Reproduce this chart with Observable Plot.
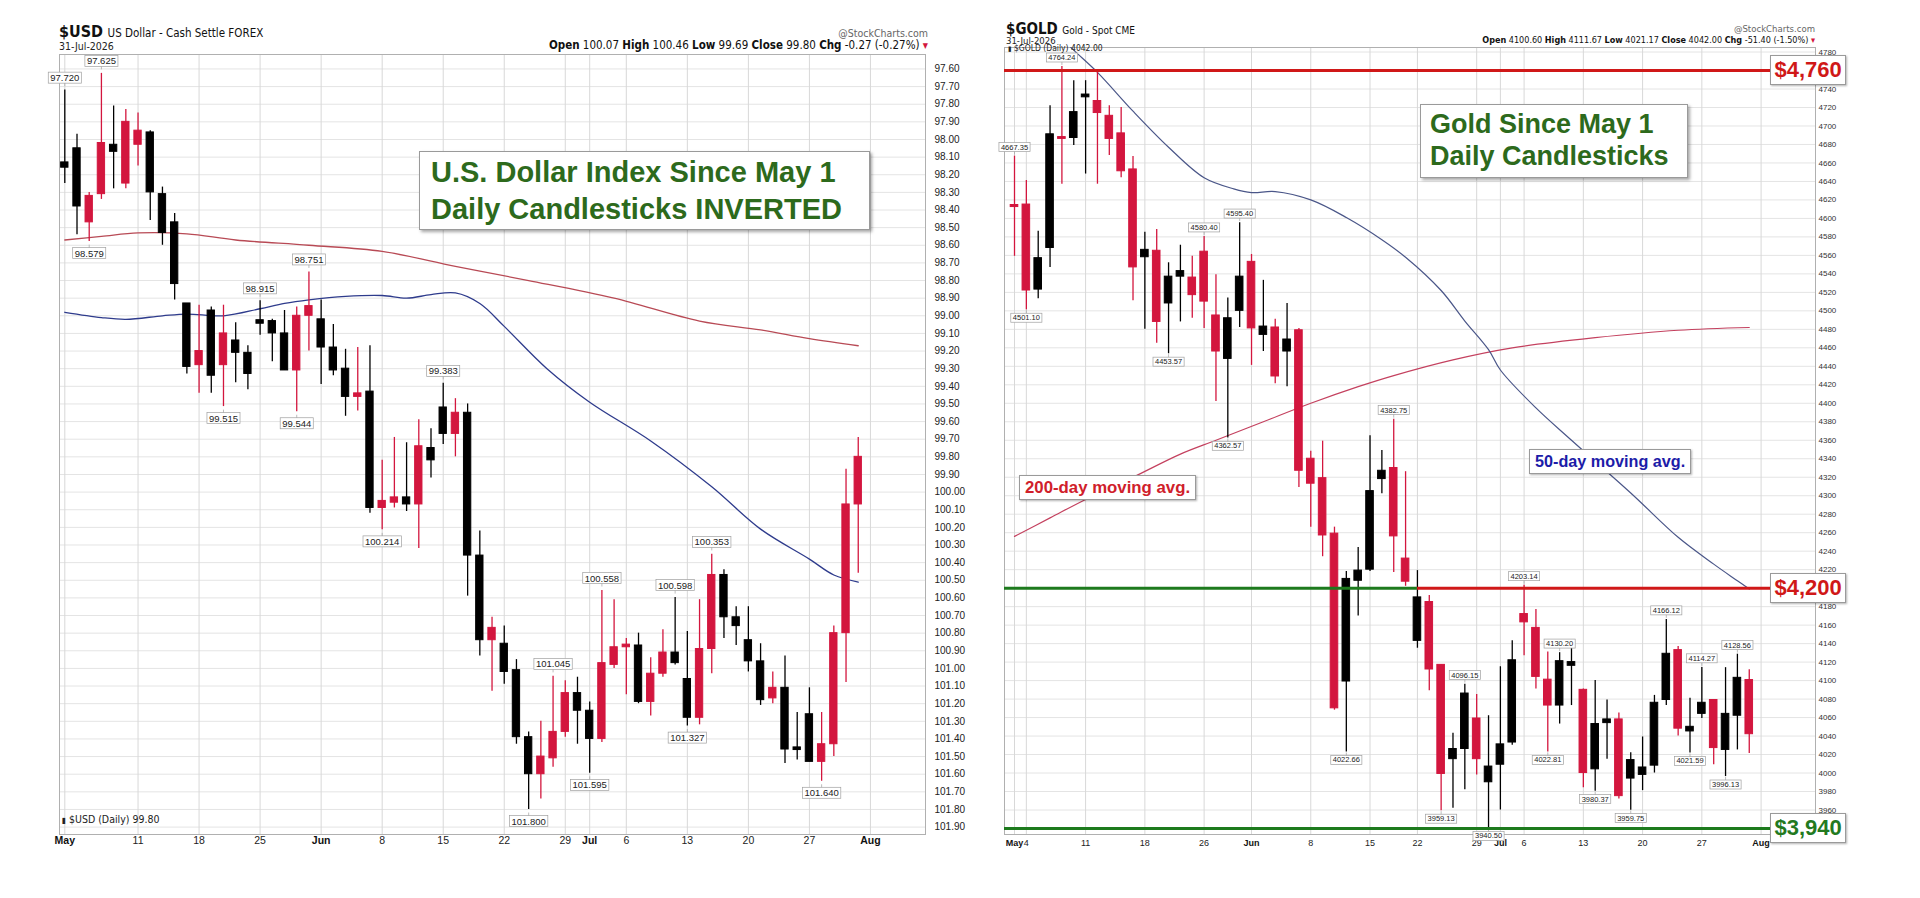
<!DOCTYPE html>
<html><head><meta charset="utf-8">
<script src="https://cdn.jsdelivr.net/npm/d3@7"></script>
<script src="https://cdn.jsdelivr.net/npm/@observablehq/plot@0.6"></script>
<style>
html,body{margin:0;padding:0;background:#fff;}
#wrap{position:relative;width:1920px;height:898px;overflow:hidden;background:#fff;font-family:"Liberation Sans",Arial,sans-serif;}
.abs{position:absolute;white-space:nowrap;line-height:1;}
.narrow{font-family:"Liberation Sans Narrow","DejaVu Sans Condensed","Liberation Sans",sans-serif;}
.tbox{position:absolute;background:#fff;border:1px solid #9a9a9a;box-shadow:2px 2px 3px rgba(0,0,0,0.35);font-weight:bold;color:#2d6a1c;box-sizing:border-box;}
.nbox{position:absolute;background:#fff;border:1px solid #9a9a9a;box-shadow:1px 1px 2px rgba(0,0,0,0.3);font-weight:bold;box-sizing:border-box;white-space:nowrap;}
</style></head>
<body><div id="wrap"></div>
<script>
// ---------------- US Dollar ($USD) daily candles, May 1 - Jul 31 ----------------
const usdOpen  = [98.13,98.05,98.47,98.31,98.03,98.25,98.03,97.96,98.31,98.47, 98.93,99.28,98.97,99.28,99.14,99.21,99.025,99.03,99.10,99.31, 99.00,99.02,99.18,99.30,99.46,99.43,100.09,100.06,100.03,100.07, 99.75,99.52,99.67,99.55,100.36,100.84,100.86,101.01,101.39,101.60, 101.51,101.36,101.14,101.24,101.40,100.98,100.88,100.87,101.19,101.03, 100.91,101.06,101.28,100.89,100.47,100.71,100.84,100.96,101.17,101.11, 101.448,101.26,101.53,101.43,100.80,100.07];
const usdHigh  = [98.25,98.54,98.579,98.34,98.28,98.28,98.15,98.46,98.60,98.91, 99.33,99.44,99.44,99.515,99.38,99.42,99.11,99.26,99.31,99.544, 99.20,99.39,99.34,99.57,99.54,100.12,100.214,100.09,100.11,100.32, 99.92,99.73,99.80,100.59,100.93,101.13,101.09,101.43,101.80,101.74, 101.56,101.39,101.43,101.595,101.42,101.00,101.15,101.20,101.27,101.05, 100.98,101.327,101.32,101.03,100.83,100.87,101.02,101.21,101.20,101.54, 101.52,101.53,101.64,101.50,101.08,100.46];
const usdLow   = [97.72,97.97,98.30,97.625,97.81,97.83,97.85,97.95,98.27,98.42, 98.93,98.94,98.95,98.94,99.04,99.17,98.915,99.02,98.97,98.95, 98.751,98.91,99.05,99.19,99.18,99.17,99.82,99.69,99.72,99.59, 99.64,99.383,99.47,99.50,100.22,100.71,100.76,100.95,101.36,101.30, 101.045,101.07,101.05,101.19,100.558,100.61,100.83,100.80,100.94,100.78, 100.598,100.79,100.61,100.353,100.44,100.65,100.65,100.86,101.02,100.93, 101.25,101.11,101.25,100.76,99.87,99.69];
const usdClose = [98.16,98.38,98.32,98.02,98.07,97.90,97.95,98.30,98.53,98.82, 99.29,99.20,99.34,99.10,99.21,99.33,99.045,99.10,99.31,99.00, 98.945,99.18,99.31,99.46,99.44,100.09,100.05,100.03,100.07,99.74, 99.82,99.67,99.55,100.36,100.84,100.77,101.02,101.39,101.60,101.50, 101.36,101.14,101.24,101.40,100.97,100.88,100.865,101.19,101.03,100.91, 100.97,101.28,100.89,100.47,100.71,100.76,100.96,101.18,101.11,101.46, 101.463,101.53,101.43,100.80,100.07,99.80];
// moving averages [trading-day index, value]
const usdMa50  = [[1,98.98],[4,99.01],[6,99.02],[9,99.0],[11,98.99],[14,99.0],[17,98.96],[19,98.93],[21,98.91],[24,98.89],[27,98.885],[29,98.9],[31,98.88],[33,98.87],[35,98.93],[37,99.06],[40.5,99.3],[44,99.49],[49,99.71],[54,99.97],[58,100.21],[62,100.38],[64,100.47],[66,100.51]];
const usdMa200 = [[1,98.57],[4,98.55],[7,98.53],[11,98.535],[15,98.57],[21,98.60],[27,98.635],[33,98.72],[39,98.80],[46,98.90],[53,99.03],[58,99.08],[62,99.13],[66,99.17]];
// price annotations
const usdLabN    = [1,4,3,17,21,14,20,32,27,39,41,44,45,51,52,54,63];
const usdLabV    = [97.720,97.625,98.579,98.915,98.751,99.515,99.544,99.383,100.214,101.800,101.045,101.595,100.558,100.598,101.327,100.353,101.640];
const usdLabSide = ["t","t","b","t","t","b","b","t","b","b","t","b","t","t","b","t","b"];
// x tick positions (trading-day index) and labels
const usdTickN     = [1,7,12,17,22,27,32,37,42,44,47,52,57,62,67];
const usdTickLabel = ["May","11","18","25","Jun","8","15","22","29","Jul","6","13","20","27","Aug"];
const usdYTicks = d3.range(0, 44).map(i => +(97.6 + i * 0.1).toFixed(2));

// ---------------- Gold ($GOLD) daily candles ----------------
const goldOpen  = [4614.5,4615,4523,4568,4688,4687,4731,4727,4711,4692, 4653,4558,4565,4508,4537,4536,4564,4495,4448,4500, 4553,4474,4482,4456,4479,4340,4319,4259,4099,4208, 4220,4318,4330,4232,4143,4185,4117,4015,4026,4059, 3990,4009,4033,4172,4157,4101,4073,4116,4090,4004, 4054,4058,3994,3998,4008,4079,4133,4045,4064,4079, 4025,4062,4100.6];
const goldHigh  = [4667.35,4641,4586,4722,4764.24,4749,4749,4760,4722,4720, 4667,4585,4588,4552,4571,4559,4580.4,4539,4514,4595.4, 4561,4533,4491,4508,4481,4348,4359,4266,4218,4244, 4365,4349,4382.75,4326,4219,4192,4117,4043,4096.15,4085, 4062,4115,4143,4203.14,4177,4131,4130.2,4135,4091,4100, 4079,4065,4022,4039,4084,4166.12,4137,4081,4114.27,4079, 4114,4128.56,4111.67];
const goldLow   = [4559,4501.1,4513,4547,4637,4679,4648,4637,4668,4644, 4511,4480,4465,4453.57,4488,4492,4481,4402,4362.57,4482, 4441,4456,4421,4418,4309,4266,4234,4068,4022.66,4170, 4218,4302,4217,4202,4135,4089,3959.13,3962,3982,3998, 3940.5,3960,4030,4127,4091,4022.81,4053,4073,3984,3980.37, 4015,3972,3959.75,3981,4000,4073,4040,4021.59,4059,4009, 3996.13,4025,4021.17];
const goldClose = [4612.3,4522,4557,4691,4686,4715,4734,4714,4686,4651, 4547,4566,4488,4537,4543,4517,4510,4456,4492,4537, 4481,4483,4429,4469,4327,4313,4257,4070,4210,4219, 4305,4327,4256,4207,4190,4112,3999,4026,4086,4015, 4007,4031,4122,4163,4104,4073,4121,4120,4000,4053, 4058,3975,4014,4006,4076,4129,4048,4050,4076,4027, 4064,4103,4042];
const goldMa50  = [[1,4850],[3,4822],[5,4795],[6,4782],[8,4758],[11,4716],[14,4677],[17,4644],[19.5,4632],[21,4628],[23,4629],[26,4620],[29,4601],[32,4577],[34,4558],[37,4522],[39,4489],[41,4458],[42,4436],[45,4395],[48,4360],[53,4303],[57,4255],[60,4226],[62,4208],[63,4199]];
const goldMa200 = [[1,4256],[4,4276],[7,4296],[11,4320],[15,4345],[18,4360],[22,4380],[26,4400],[30,4418],[33,4430],[38,4447],[43,4460],[50,4471],[57,4479],[63,4482]];
const goldLabN    = [1,2,5,14,17,19,20,29,33,37,39,41,44,46,47,50,53,56,58,59,61,62];
const goldLabV    = [4667.35,4501.10,4764.24,4453.57,4580.40,4362.57,4595.40,4022.66,4382.75,3959.13,4096.15,3940.50,4203.14,4022.81,4130.20,3980.37,3959.75,4166.12,4021.59,4114.27,3996.13,4128.56];
const goldLabSide = ["t","b","t","b","t","b","t","b","t","b","t","b","t","b","t","b","b","t","b","t","b","t"];
const goldTickN     = [1,2,7,12,17,21,26,31,35,40,42,44,49,54,59,64];
const goldTickLabel = ["May","4","11","18","26","Jun","8","15","22","29","Jul","6","13","20","27","Aug"];
const goldLevels = [4760, 4200, 3940];
const goldLevelText = ["$4,760", "$4,200", "$3,940"];
const goldYTicks = d3.range(0, 42).map(i => 3960 + i * 20);
const goldYLabels = goldYTicks.filter(v => !goldLevels.includes(v));

// ---------------- helpers ----------------
const RED = "#d3163e", BLACK = "#000";
const months = new Set(["May","Jun","Jul","Aug"]);
const ohlc = (o,h,l,c) => o.map((v,i) => ({n: i+1, o: v, h: h[i], l: l[i], c: c[i]}));
const colorOf = d => d.c < d.o ? RED : BLACK;
const labs = (n,v,s) => n.map((x,i) => ({n: x, v: v[i], side: s[i]}));
const ticks = (n,l) => n.map((x,i) => ({n: x, label: l[i]}));

function candleMarks(data, half) {
  return [
    Plot.ruleX(data, {x: "n", y1: "l", y2: "h", stroke: colorOf, strokeWidth: 1.3}),
    Plot.rect(data, {x1: d => d.n - half, x2: d => d.n + half, y1: "o", y2: "c", fill: colorOf, stroke: colorOf, strokeWidth: 1})
  ];
}
function labelMarks(data, digits, fs, offT, offB) {
  return [
    Plot.text(data.filter(d => d.side === "t"), {x: "n", y: "v", text: d => d.v.toFixed(digits), dy: -offT, fontSize: fs, fill: "#222", className: "vlabt"}),
    Plot.text(data.filter(d => d.side === "b"), {x: "n", y: "v", text: d => d.v.toFixed(digits), dy: offB, fontSize: fs, fill: "#222", className: "vlabb"})
  ];
}
function xLabelMarks(tk, fs, dy) {
  return [
    Plot.text(tk.filter(d => months.has(d.label)), {x: "n", text: "label", frameAnchor: "bottom", dy, fontWeight: "bold", fontSize: fs, fill: "#111"}),
    Plot.text(tk.filter(d => !months.has(d.label)), {x: "n", text: "label", frameAnchor: "bottom", dy, fontSize: fs, fill: "#222"})
  ];
}
function boxLabels(svg) {
  const NS = "http://www.w3.org/2000/svg";
  ["vlabt","vlabb"].forEach(cls => {
    svg.querySelectorAll("g." + cls + " text").forEach(t => {
      const b = t.getBBox();
      const r = document.createElementNS(NS, "rect");
      r.setAttribute("x", b.x - 2); r.setAttribute("y", b.y);
      r.setAttribute("width", b.width + 4); r.setAttribute("height", b.height);
      r.setAttribute("fill", "#fff"); r.setAttribute("stroke", "#a0a0a0"); r.setAttribute("stroke-width", "0.7");
      const tr = t.getAttribute("transform"); if (tr) r.setAttribute("transform", tr);
      t.parentNode.insertBefore(r, t);
      const ln = document.createElementNS(NS, "line");
      const cx = b.x + b.width / 2;
      const y0 = cls === "vlabt" ? b.y + b.height : b.y;
      const y1 = cls === "vlabt" ? y0 + 3 : y0 - 3;
      ln.setAttribute("x1", cx); ln.setAttribute("x2", cx); ln.setAttribute("y1", y0); ln.setAttribute("y2", y1);
      ln.setAttribute("stroke", "#a0a0a0"); ln.setAttribute("stroke-width", "0.7");
      if (tr) ln.setAttribute("transform", tr);
      t.parentNode.insertBefore(ln, t);
    });
  });
}
const wrap = document.getElementById("wrap");
function place(el, left, top) { el.style.position = "absolute"; el.style.left = left + "px"; el.style.top = top + "px"; wrap.appendChild(el); }
function div(html, cls, css) { const d = document.createElement("div"); d.className = cls; d.innerHTML = html; Object.assign(d.style, css); wrap.appendChild(d); return d; }

const baseStyle = {fontFamily: "Liberation Sans, Arial, sans-serif", fontSize: "10px", background: "transparent", overflow: "visible"};

// ---------------- USD panel ----------------
const usd = ohlc(usdOpen, usdHigh, usdLow, usdClose);
const USD_LEFT = 0;
const usdPlot = Plot.plot({
  width: 980, height: 898,
  marginLeft: 59, marginRight: 55, marginTop: 54, marginBottom: 64,
  x: {domain: [0.566, 71.51], axis: null},
  y: {domain: [101.942, 97.518], axis: null},
  style: baseStyle,
  marks: [
    Plot.ruleY(usdYTicks, {stroke: "#e4e4e4", strokeWidth: 1}),
    Plot.ruleX(usdTickN, {stroke: "#d8d8d8", strokeWidth: 1}),
    Plot.frame({stroke: "#b0b0b0"}),
    Plot.axisY(usdYTicks, {anchor: "right", tickSize: 0, tickPadding: 9, tickFormat: d => d.toFixed(2), fontSize: 10, fill: "#222", label: null}),
    ...xLabelMarks(ticks(usdTickN, usdTickLabel), 10.5, 9),
    Plot.line(usdMa200, {x: d => d[0], y: d => d[1], stroke: "#b84a55", strokeWidth: 1.3, curve: "catmull-rom"}),
    Plot.line(usdMa50, {x: d => d[0], y: d => d[1], stroke: "#2e3b8c", strokeWidth: 1.3, curve: "catmull-rom"}),
    ...candleMarks(usd, 0.3),
    ...labelMarks(labs(usdLabN, usdLabV, usdLabSide), 3, 9.5, 12, 12)
  ]
});
place(usdPlot, USD_LEFT, 0);
boxLabels(usdPlot);

div('<span style="font-weight:bold;font-size:16px">$USD</span> <span style="font-size:11.5px">US Dollar - Cash Settle FOREX</span>', "abs narrow", {left: "59px", top: "24px", color: "#111"});
div('31-Jul-2026', "abs narrow", {left: "59px", top: "41px", fontSize: "10.5px", color: "#222"});
div('@StockCharts.com', "abs narrow", {right: (1920 - 928) + "px", top: "28px", fontSize: "10.5px", color: "#666"});
div('<b>Open</b> 100.07 <b>High</b> 100.46 <b>Low</b> 99.69 <b>Close</b> 99.80 <b>Chg</b> -0.27 (-0.27%) <span style="color:#d3163e">&#9662;</span>', "abs narrow", {right: (1920 - 928) + "px", top: "40px", fontSize: "11.5px", color: "#111"});
div('<span style="font-size:8px">&#9646;</span> $USD (Daily) 99.80', "abs narrow", {left: "62px", top: "814px", fontSize: "10.5px", color: "#222"});
div('U.S. Dollar Index Since May 1<br>Daily Candlesticks INVERTED', "tbox", {left: "419px", top: "151px", width: "451px", height: "79px", fontSize: "29px", lineHeight: "37px", padding: "2px 0 0 11px"});

// ---------------- Gold panel ----------------
const gold = ohlc(goldOpen, goldHigh, goldLow, goldClose);
const GOLD_LEFT = 985;
const goldEndN = 64.8;
const goldPlot = Plot.plot({
  width: 935, height: 898,
  marginLeft: 19, marginRight: 105, marginTop: 47, marginBottom: 64,
  x: {domain: [0.156, 68.59], axis: null},
  y: {domain: [3933.5, 4784.9], axis: null},
  style: baseStyle,
  marks: [
    Plot.ruleY(goldYTicks, {stroke: "#e4e4e4", strokeWidth: 1}),
    Plot.ruleX(goldTickN, {stroke: "#d8d8d8", strokeWidth: 1}),
    Plot.frame({stroke: "#b0b0b0"}),
    Plot.axisY(goldYLabels, {anchor: "right", tickSize: 0, tickPadding: 3, tickFormat: d => String(d), fontSize: 8, fill: "#333", label: null}),
    ...xLabelMarks(ticks(goldTickN, goldTickLabel), 9, 11.5),
    Plot.line(goldMa200, {x: d => d[0], y: d => d[1], stroke: "#c4415f", strokeWidth: 1.2, curve: "catmull-rom", clip: true}),
    Plot.line(goldMa50, {x: d => d[0], y: d => d[1], stroke: "#4a5688", strokeWidth: 1.2, curve: "catmull-rom", clip: true}),
    ...candleMarks(gold, 0.32),
    ...labelMarks(labs(goldLabN, goldLabV, goldLabSide), 2, 7.5, 9, 8),
    Plot.ruleY([goldLevels[0]], {x1: 0.156, x2: goldEndN, stroke: "#d01818", strokeWidth: 3}),
    Plot.ruleY([goldLevels[1]], {x1: 0.156, x2: 35, stroke: "#1d7a1d", strokeWidth: 3}),
    Plot.ruleY([goldLevels[1]], {x1: 35, x2: goldEndN, stroke: "#d01818", strokeWidth: 3}),
    Plot.ruleY([goldLevels[2]], {x1: 0.156, x2: goldEndN, stroke: "#1d7a1d", strokeWidth: 3})
  ]
});
place(goldPlot, GOLD_LEFT, 0);
boxLabels(goldPlot);

div('<span style="font-weight:bold;font-size:15px">$GOLD</span> <span style="font-size:10px">Gold - Spot CME</span>', "abs narrow", {left: "1006px", top: "21px", color: "#111"});
div('31-Jul-2026', "abs narrow", {left: "1006px", top: "36px", fontSize: "9.5px", color: "#222"});
div('@StockCharts.com', "abs narrow", {right: (1920 - 1815) + "px", top: "24px", fontSize: "9.5px", color: "#666"});
div('<b>Open</b> 4100.60 <b>High</b> 4111.67 <b>Low</b> 4021.17 <b>Close</b> 4042.00 <b>Chg</b> -51.40 (-1.50%) <span style="color:#d3163e">&#9662;</span>', "abs narrow", {right: (1920 - 1815) + "px", top: "36px", fontSize: "9px", color: "#111"});
div('<span style="font-size:7px">&#9646;</span> $GOLD (Daily) 4042.00', "abs narrow", {left: "1008px", top: "44px", fontSize: "8.5px", color: "#222"});
div('Gold Since May 1<br>Daily Candlesticks', "tbox", {left: "1420px", top: "104px", width: "268px", height: "74px", fontSize: "27px", lineHeight: "32px", padding: "3px 0 0 9px"});

const gx = goldPlot.scale("x"), gy = goldPlot.scale("y");
div('200-day moving avg.', "nbox", {left: "1019px", top: "475px", height: "25px", fontSize: "16.8px", lineHeight: "23px", padding: "0 5px", color: "#d0202a"});
div('50-day moving avg.', "nbox", {left: "1529px", top: "449px", height: "25px", fontSize: "16.2px", lineHeight: "23px", padding: "0 5px", color: "#1c1ca8"});
goldLevels.forEach((v, i) => {
  const yPix = gy.apply(v);
  const xPix = GOLD_LEFT + gx.apply(goldEndN);
  div(goldLevelText[i], "nbox", {left: xPix + "px", top: (yPix - 15) + "px", width: "76px", height: "30px", fontSize: "22px", lineHeight: "28px", textAlign: "center", color: v === 3940 ? "#237a1f" : "#d01818"});
});
</script>
</body></html>
